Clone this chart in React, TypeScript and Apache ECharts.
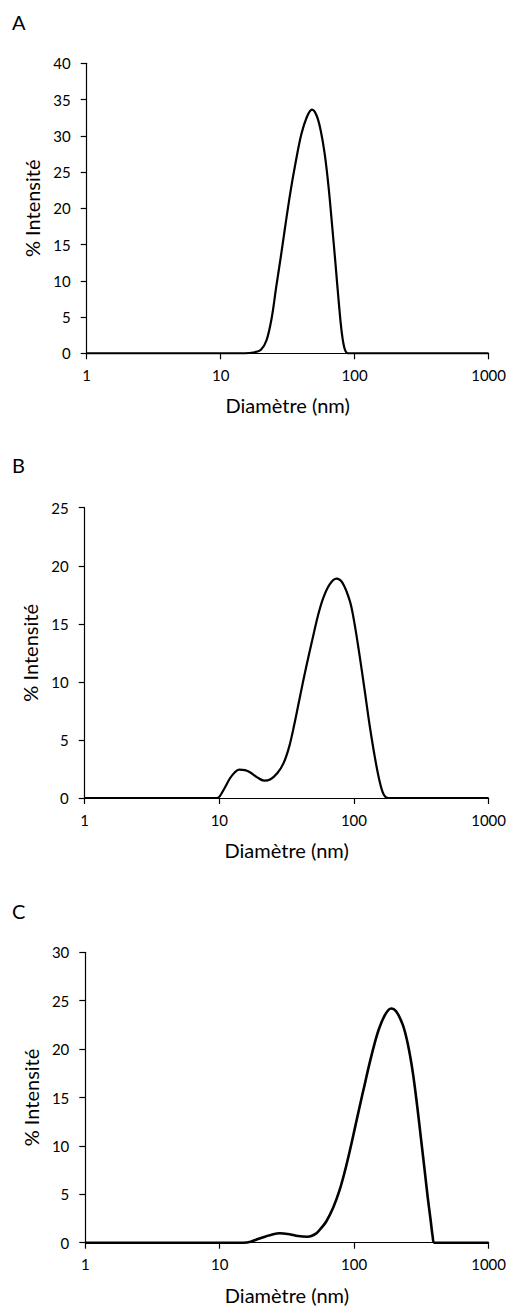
import React, { useEffect, useRef } from "react";
import * as echarts from "echarts";

// Panel A
const diamA = [1, 10, 15, 18, 20, 22, 24, 26, 28, 30, 33, 36, 40, 44, 48, 52, 56, 60, 64, 68, 72, 76, 80, 84, 89, 1000];
const intA = [0, 0, 0, 0.15, 0.5, 1.8, 4.8, 9.2, 13.1, 16.9, 22.0, 26.0, 30.2, 32.6, 33.6, 32.8, 30.6, 27.3, 22.8, 17.5, 12.3, 7.2, 3.0, 0.7, 0, 0];

// Panel B
const diamB = [1, 9.5, 10, 11, 12, 13, 14, 15.5, 17, 19, 21.5, 24, 27, 30, 33, 36, 40, 44, 49, 54, 59, 66, 74, 82, 93, 100, 110, 120, 131, 143, 155, 167, 180, 1000];
const intB = [0, 0, 0.1, 0.9, 1.7, 2.2, 2.45, 2.4, 2.2, 1.8, 1.5, 1.62, 2.15, 3.0, 4.4, 6.3, 8.9, 11.2, 13.6, 15.7, 17.2, 18.4, 18.9, 18.55, 17.0, 15.3, 12.3, 9.3, 6.2, 3.5, 1.45, 0.25, 0, 0];

// Panel C
const diamC = [1, 15, 17, 19, 22, 25, 28, 32, 37, 45, 52, 57, 62, 70, 78, 85, 92, 100, 110, 120, 130, 142, 154, 170, 188, 205, 230, 250, 273, 295, 315, 335, 352, 370, 384, 395, 1000];
const intC = [0, 0, 0.1, 0.35, 0.65, 0.88, 0.97, 0.9, 0.72, 0.62, 0.94, 1.54, 2.19, 3.67, 5.46, 7.31, 9.27, 11.5, 14.1, 16.4, 18.5, 20.6, 22.2, 23.55, 24.2, 23.9, 22.5, 20.6, 17.6, 14.0, 10.6, 7.4, 4.75, 2.4, 0.6, 0, 0];

const yMaxes = [40, 25, 30];
const panelLabels = ["A", "B", "C"];
const xTitle = "Diamètre (nm)";
const yTitle = "% Intensité";

const FONT = "Lato, 'Open Sans', sans-serif";

export default function App() {
  const ref = useRef<HTMLDivElement>(null);
  useEffect(() => {
    if (!ref.current) return;
    const chart = echarts.init(ref.current, undefined, { renderer: "svg" });
    const grids = [
      { left: 86.7, right: 20, top: 63.3, height: 290 },
      { left: 84.7, right: 20, top: 507.7, height: 290.3 },
      { left: 85.3, right: 19.7, top: 952.3, height: 290.4 },
    ];
    const labelY = [24, 467, 913];
    const datasets = [
      diamA.map((d, i) => [d, intA[i]]),
      diamB.map((d, i) => [d, intB[i]]),
      diamC.map((d, i) => [d, intC[i]]),
    ];
    const axisLine = { show: true, lineStyle: { color: "#000", width: 1.2 } };
    const axisTick = { show: true, length: 6, lineStyle: { color: "#000", width: 1.2 } };
    chart.setOption({
      animation: false,
      backgroundColor: "#fff",
      textStyle: { fontFamily: FONT },
      grid: grids.map((g) => ({ ...g, containLabel: false })),
      xAxis: grids.map((_, i) => ({
        type: "log",
        logBase: 10,
        gridIndex: i,
        min: 1,
        max: 1000,
        axisLine,
        axisTick,
        minorTick: { show: false },
        splitLine: { show: false },
        axisLabel: { color: "#000", fontSize: 15, margin: 14, fontFamily: FONT, formatter: (v: number) => String(Math.round(v)) },
        name: xTitle,
        nameLocation: "middle",
        nameGap: 42,
        nameTextStyle: { color: "#000", fontSize: 20, fontFamily: FONT },
      })),
      yAxis: grids.map((_, i) => ({
        type: "value",
        gridIndex: i,
        min: 0,
        max: yMaxes[i],
        interval: 5,
        axisLine,
        axisTick,
        splitLine: { show: false },
        axisLabel: { color: "#000", fontSize: 15, margin: 16, fontFamily: FONT },
        name: yTitle,
        nameLocation: "middle",
        nameGap: 40,
        nameTextStyle: { color: "#000", fontSize: 20, fontFamily: FONT },
      })),
      series: datasets.map((data, i) => ({
        type: "line",
        xAxisIndex: i,
        yAxisIndex: i,
        data,
        smooth: 0.35,
        symbol: "none",
        lineStyle: { color: "#000", width: i === 2 ? 2.6 : 2.2 },
      })),
      graphic: panelLabels.map((t, i) => ({
        type: "text",
        left: 12,
        top: labelY[i] - 12,
        style: { text: t, fill: "#000", fontSize: 20, fontFamily: FONT },
      })),
    });
    return () => chart.dispose();
  }, []);
  return (
    <div
      ref={ref}
      style={{ position: "absolute", left: 0, top: 0, width: 509, height: 1307, background: "#fff" }}
    />
  );
}
